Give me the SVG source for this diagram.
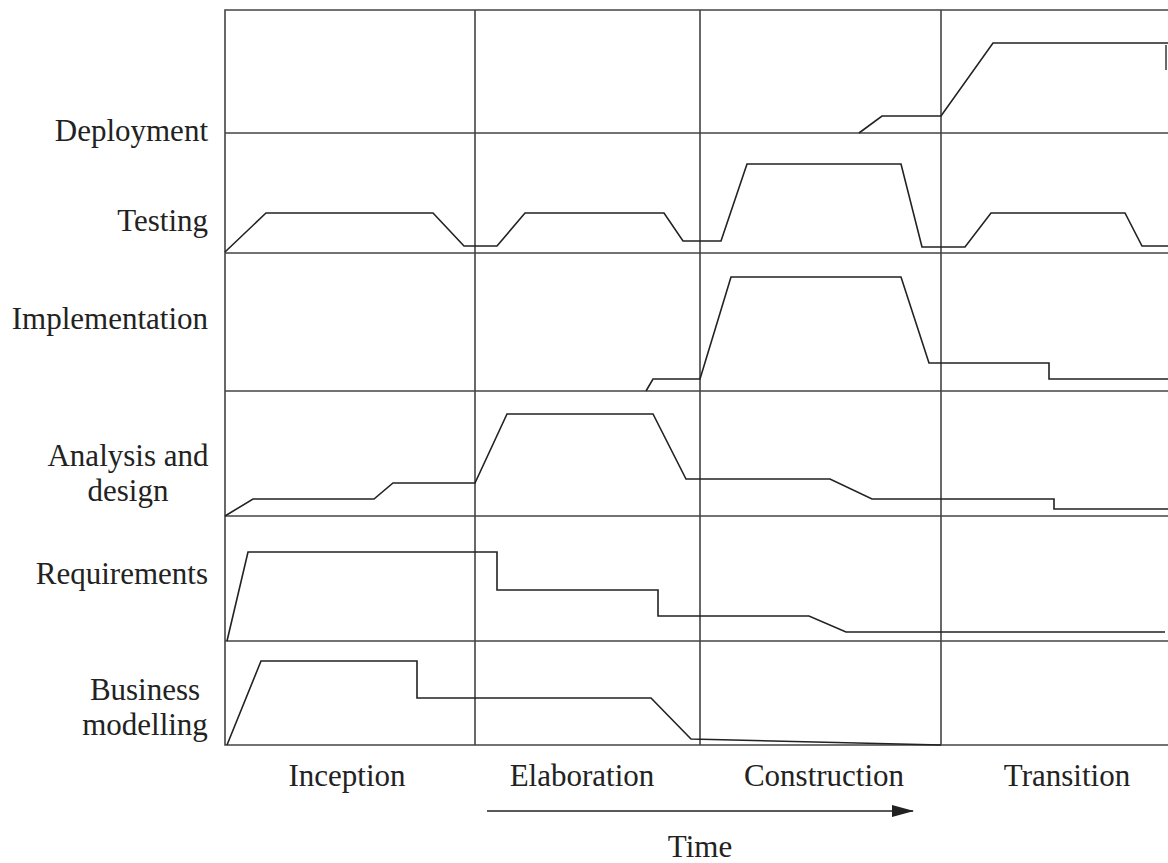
<svg xmlns="http://www.w3.org/2000/svg" width="1168" height="863" viewBox="0 0 1168 863">
<defs>
<style>
.grid{stroke:#444;stroke-width:1.6;fill:none}
.curve{stroke:#222;stroke-width:1.6;fill:none;stroke-linejoin:miter}
.lbl{font-family:"Liberation Serif","Times New Roman",serif;font-size:31px;fill:#222}
.r{text-anchor:end}
.m{text-anchor:middle}
</style>
<marker id="ah" markerWidth="22" markerHeight="12" refX="21" refY="6" orient="auto" markerUnits="userSpaceOnUse">
<path d="M0,0 L22,6 L0,12 Z" fill="#222"/>
</marker>
</defs>
<rect width="1168" height="863" fill="#fff"/>
<g id="grid">
<path class="grid" d="M1168,10 H225 V745 H1168"/>
<path class="grid" d="M225,133 H1168 M225,253 H1168 M225,391 H1168 M225,516 H1168 M225,641 H1168"/>
<path class="grid" d="M475,10 V745 M700,10 V745 M941,10 V745"/>
<path class="grid" d="M1166,45 V70" stroke="#999"/>
</g>
<g id="labels">
<text id="lbl-deployment" class="lbl r" x="208" y="141">Deployment</text>
<text id="lbl-testing" class="lbl r" x="208" y="231">Testing</text>
<text id="lbl-implementation" class="lbl r" x="208" y="329">Implementation</text>
<text id="lbl-analysis" class="lbl m"><tspan x="128" y="466">Analysis and</tspan><tspan x="128" y="501">design</tspan></text>
<text id="lbl-requirements" class="lbl r" x="208" y="584">Requirements</text>
<text id="lbl-business" class="lbl m"><tspan x="145" y="700">Business</tspan><tspan x="145" y="735">modelling</tspan></text>
<text id="ph-inception" class="lbl m" x="347" y="786">Inception</text>
<text id="ph-elaboration" class="lbl m" x="582" y="786">Elaboration</text>
<text id="ph-construction" class="lbl m" x="824" y="786">Construction</text>
<text id="ph-transition" class="lbl m" x="1067" y="786">Transition</text>
<text id="time" class="lbl m" x="700" y="857">Time</text>
</g>
<g id="connectors">
<path id="c-deployment" class="curve" d="M859,133 L882,116 L941,116 L993,43 L1168,43"/>
<path id="c-testing" class="curve" d="M225,252 L266,213 L433,213 L464,246 L497,246 L525,213 L664,213 L683,241 L721,241 L747,164 L901,164 L922,247 L965,247 L991,213 L1125,213 L1142,246 L1168,246"/>
<path id="c-implementation" class="curve" d="M646,391 L653,379 L700,379 L731,277 L901,277 L929,363 L1049,363 L1049,379 L1168,379"/>
<path id="c-analysis" class="curve" d="M225,516 L253,499 L374,499 L393,483 L475,483 L507,414 L653,414 L686,479 L830,479 L872,499 L1054,499 L1054,509 L1168,509"/>
<path id="c-requirements" class="curve" d="M227,641 L248,552 L497,552 L497,590 L658,590 L658,616 L809,616 L846,632 L1165,632"/>
<path id="c-business" class="curve" d="M227,745 L261,661 L417,661 L417,698 L651,698 L691,739 L941,745"/>
<path id="time-arrow" class="curve" d="M487,811 L913,811" marker-end="url(#ah)"/>
</g>
</svg>
